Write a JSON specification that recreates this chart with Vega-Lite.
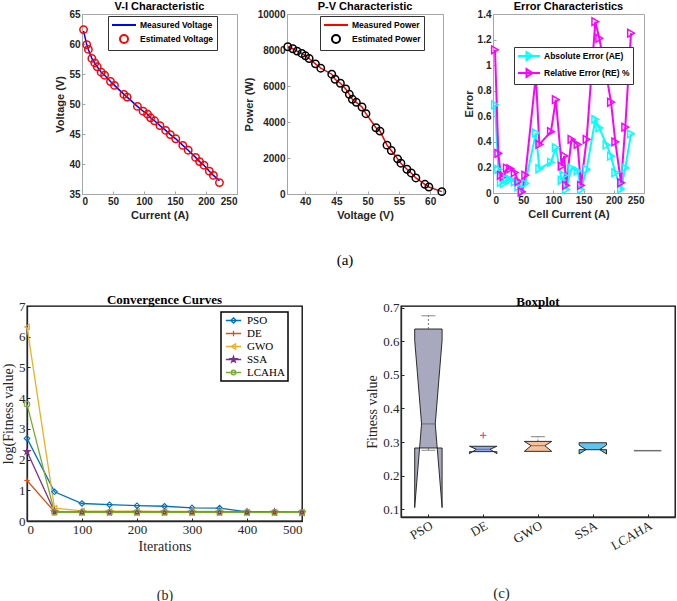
{
  "$schema": "https://vega.github.io/schema/vega-lite/v6.json",
  "padding": {"left": 0, "top": 0, "right": 0, "bottom": 0},
  "background": "white",
  "datasets": {
    "vi": [
      {"I": 2.5, "measured": 62.2, "estimated": 62.4},
      {"I": 7.6, "measured": 59.9, "estimated": 59.9},
      {"I": 10.3, "measured": 59.1, "estimated": 59.1},
      {"I": 15.9, "measured": 57.6, "estimated": 57.6},
      {"I": 20.6, "measured": 56.8, "estimated": 56.85},
      {"I": 24.6, "measured": 56.2, "estimated": 56.2},
      {"I": 30.9, "measured": 55.3, "estimated": 55.3},
      {"I": 36.4, "measured": 54.8, "estimated": 54.8},
      {"I": 46.0, "measured": 53.75, "estimated": 53.75},
      {"I": 52.4, "measured": 53.1, "estimated": 53.1},
      {"I": 67.6, "measured": 51.6, "estimated": 51.6},
      {"I": 72.8, "measured": 51.15, "estimated": 51.15},
      {"I": 89.4, "measured": 49.6, "estimated": 49.6},
      {"I": 98.6, "measured": 48.8, "estimated": 48.8},
      {"I": 105.7, "measured": 48.3, "estimated": 48.3},
      {"I": 110.6, "measured": 47.7, "estimated": 47.7},
      {"I": 117.0, "measured": 47.2, "estimated": 47.2},
      {"I": 125.7, "measured": 46.4, "estimated": 46.4},
      {"I": 135.0, "measured": 45.6, "estimated": 45.6},
      {"I": 142.5, "measured": 44.9, "estimated": 44.9},
      {"I": 151.2, "measured": 44.2, "estimated": 44.2},
      {"I": 162.6, "measured": 43.1, "estimated": 43.1},
      {"I": 171.3, "measured": 42.3, "estimated": 42.3},
      {"I": 183.2, "measured": 41.1, "estimated": 41.1},
      {"I": 189.7, "measured": 40.4, "estimated": 40.4},
      {"I": 196.7, "measured": 39.8, "estimated": 39.8},
      {"I": 205.4, "measured": 38.8, "estimated": 38.8},
      {"I": 212.0, "measured": 38.1, "estimated": 38.1},
      {"I": 221.7, "measured": 37.2, "estimated": 36.9}
    ],
    "pv": [
      {"V": 37.23, "measured": 8180, "estimated": 8180},
      {"V": 38.03, "measured": 8068, "estimated": 8068},
      {"V": 38.72, "measured": 7938, "estimated": 7938},
      {"V": 39.47, "measured": 7808, "estimated": 7808},
      {"V": 40.05, "measured": 7677, "estimated": 7677},
      {"V": 40.64, "measured": 7529, "estimated": 7529},
      {"V": 41.65, "measured": 7231, "estimated": 7231},
      {"V": 42.5, "measured": 6990, "estimated": 6990},
      {"V": 44.26, "measured": 6655, "estimated": 6655},
      {"V": 44.79, "measured": 6376, "estimated": 6376},
      {"V": 45.64, "measured": 6153, "estimated": 6153},
      {"V": 46.49, "measured": 5837, "estimated": 5837},
      {"V": 47.07, "measured": 5540, "estimated": 5540},
      {"V": 47.55, "measured": 5261, "estimated": 5261},
      {"V": 48.19, "measured": 5094, "estimated": 5094},
      {"V": 49.1, "measured": 4833, "estimated": 4833},
      {"V": 49.73, "measured": 4462, "estimated": 4462},
      {"V": 51.33, "measured": 3681, "estimated": 3681},
      {"V": 51.97, "measured": 3495, "estimated": 3495},
      {"V": 53.09, "measured": 2714, "estimated": 2714},
      {"V": 53.78, "measured": 2417, "estimated": 2417},
      {"V": 54.79, "measured": 1952, "estimated": 1952},
      {"V": 55.32, "measured": 1710, "estimated": 1710},
      {"V": 56.28, "measured": 1376, "estimated": 1376},
      {"V": 56.97, "measured": 1171, "estimated": 1171},
      {"V": 57.71, "measured": 892, "estimated": 892},
      {"V": 59.15, "measured": 539, "estimated": 539},
      {"V": 59.79, "measured": 390, "estimated": 390},
      {"V": 61.86, "measured": 130, "estimated": 130}
    ],
    "err": [
      {"I": 3.3, "ae": 0.69, "re": 1.12},
      {"I": 8.8, "ae": 0.185, "re": 0.31},
      {"I": 13.0, "ae": 0.083, "re": 0.14},
      {"I": 17.7, "ae": 0.075, "re": 0.13},
      {"I": 23.0, "ae": 0.11, "re": 0.195},
      {"I": 28.7, "ae": 0.106, "re": 0.19},
      {"I": 36.0, "ae": 0.088, "re": 0.16},
      {"I": 42.0, "ae": 0.049, "re": 0.09},
      {"I": 47.5, "ae": 0.005, "re": 0.01},
      {"I": 53.5, "ae": 0.074, "re": 0.14},
      {"I": 71.0, "ae": 0.47, "re": 0.92},
      {"I": 76.7, "ae": 0.19, "re": 0.38},
      {"I": 96.0, "ae": 0.24, "re": 0.48},
      {"I": 104.0, "ae": 0.355, "re": 0.73},
      {"I": 113.7, "ae": 0.1, "re": 0.21},
      {"I": 118.0, "ae": 0.138, "re": 0.29},
      {"I": 121.0, "ae": 0.028, "re": 0.06},
      {"I": 130.0, "ae": 0.195, "re": 0.42},
      {"I": 140.0, "ae": 0.173, "re": 0.38},
      {"I": 145.7, "ae": 0.027, "re": 0.06},
      {"I": 155.0, "ae": 0.185, "re": 0.42},
      {"I": 169.4, "ae": 0.576, "re": 1.34},
      {"I": 176.0, "ae": 0.51, "re": 1.21},
      {"I": 188.0, "ae": 0.376, "re": 0.915},
      {"I": 195.4, "ae": 0.288, "re": 0.71},
      {"I": 202.5, "ae": 0.159, "re": 0.4},
      {"I": 212.0, "ae": 0.031, "re": 0.08},
      {"I": 219.0, "ae": 0.196, "re": 0.515},
      {"I": 228.5, "ae": 0.4625, "re": 1.25}
    ],
    "conv": [
      {"it": 0, "PSO": 2.69, "DE": 1.32, "GWO": 6.32, "SSA": 2.26, "LCAHA": 3.8},
      {"it": 50, "PSO": 0.95, "DE": 0.3, "GWO": 0.42, "SSA": 0.3, "LCAHA": 0.28},
      {"it": 100, "PSO": 0.57, "DE": 0.29, "GWO": 0.33, "SSA": 0.285, "LCAHA": 0.28},
      {"it": 150, "PSO": 0.53, "DE": 0.29, "GWO": 0.32, "SSA": 0.285, "LCAHA": 0.28},
      {"it": 200, "PSO": 0.5, "DE": 0.29, "GWO": 0.32, "SSA": 0.285, "LCAHA": 0.28},
      {"it": 250, "PSO": 0.48, "DE": 0.29, "GWO": 0.31, "SSA": 0.285, "LCAHA": 0.28},
      {"it": 300, "PSO": 0.43, "DE": 0.29, "GWO": 0.31, "SSA": 0.285, "LCAHA": 0.28},
      {"it": 350, "PSO": 0.42, "DE": 0.29, "GWO": 0.31, "SSA": 0.285, "LCAHA": 0.28},
      {"it": 400, "PSO": 0.3, "DE": 0.29, "GWO": 0.29, "SSA": 0.285, "LCAHA": 0.28},
      {"it": 450, "PSO": 0.29, "DE": 0.285, "GWO": 0.285, "SSA": 0.285, "LCAHA": 0.28},
      {"it": 500, "PSO": 0.285, "DE": 0.28, "GWO": 0.285, "SSA": 0.28, "LCAHA": 0.28}
    ],
    "boxpoly": [
      {"b": "PSO", "k": 0, "x": 0.75, "y": 0.2824}, {"b": "PSO", "k": 1, "x": 0.75, "y": 0.105},
      {"b": "PSO", "k": 2, "x": 0.875, "y": 0.354}, {"b": "PSO", "k": 3, "x": 0.75, "y": 0.603},
      {"b": "PSO", "k": 4, "x": 0.75, "y": 0.6365}, {"b": "PSO", "k": 5, "x": 1.25, "y": 0.6365},
      {"b": "PSO", "k": 6, "x": 1.25, "y": 0.603}, {"b": "PSO", "k": 7, "x": 1.125, "y": 0.354},
      {"b": "PSO", "k": 8, "x": 1.25, "y": 0.105}, {"b": "PSO", "k": 9, "x": 1.25, "y": 0.2824},
      {"b": "PSO", "k": 10, "x": 0.75, "y": 0.2824},
      {"b": "DE", "k": 0, "x": 1.75, "y": 0.2715}, {"b": "DE", "k": 1, "x": 1.75, "y": 0.2655},
      {"b": "DE", "k": 2, "x": 1.875, "y": 0.2785}, {"b": "DE", "k": 3, "x": 1.75, "y": 0.2875},
      {"b": "DE", "k": 4, "x": 1.75, "y": 0.2875}, {"b": "DE", "k": 5, "x": 2.25, "y": 0.2875},
      {"b": "DE", "k": 6, "x": 2.25, "y": 0.2875}, {"b": "DE", "k": 7, "x": 2.125, "y": 0.2785},
      {"b": "DE", "k": 8, "x": 2.25, "y": 0.2655}, {"b": "DE", "k": 9, "x": 2.25, "y": 0.2715},
      {"b": "DE", "k": 10, "x": 1.75, "y": 0.2715},
      {"b": "GWO", "k": 0, "x": 2.75, "y": 0.2724}, {"b": "GWO", "k": 1, "x": 2.75, "y": 0.2724},
      {"b": "GWO", "k": 2, "x": 2.875, "y": 0.2893}, {"b": "GWO", "k": 3, "x": 2.75, "y": 0.302},
      {"b": "GWO", "k": 4, "x": 2.75, "y": 0.302}, {"b": "GWO", "k": 5, "x": 3.25, "y": 0.302},
      {"b": "GWO", "k": 6, "x": 3.25, "y": 0.302}, {"b": "GWO", "k": 7, "x": 3.125, "y": 0.2893},
      {"b": "GWO", "k": 8, "x": 3.25, "y": 0.2724}, {"b": "GWO", "k": 9, "x": 3.25, "y": 0.2724},
      {"b": "GWO", "k": 10, "x": 2.75, "y": 0.2724},
      {"b": "SSA", "k": 0, "x": 3.75, "y": 0.2775}, {"b": "SSA", "k": 1, "x": 3.75, "y": 0.2645},
      {"b": "SSA", "k": 2, "x": 3.875, "y": 0.2775}, {"b": "SSA", "k": 3, "x": 3.75, "y": 0.291},
      {"b": "SSA", "k": 4, "x": 3.75, "y": 0.298}, {"b": "SSA", "k": 5, "x": 4.25, "y": 0.298},
      {"b": "SSA", "k": 6, "x": 4.25, "y": 0.291}, {"b": "SSA", "k": 7, "x": 4.125, "y": 0.2775},
      {"b": "SSA", "k": 8, "x": 4.25, "y": 0.2645}, {"b": "SSA", "k": 9, "x": 4.25, "y": 0.2775},
      {"b": "SSA", "k": 10, "x": 3.75, "y": 0.2775}
    ],
    "boxseg": [
      {"kind": "dash", "x": 1, "x2": 1, "y": 0.6365, "y2": 0.676},
      {"kind": "solid", "x": 0.875, "x2": 1.125, "y": 0.676, "y2": 0.676},
      {"kind": "dash", "x": 1, "x2": 1, "y": 0.2824, "y2": 0.2755},
      {"kind": "solid", "x": 0.875, "x2": 1.125, "y": 0.2755, "y2": 0.2755},
      {"kind": "solid", "x": 0.875, "x2": 1.125, "y": 0.354, "y2": 0.354},
      {"kind": "solid", "x": 1.875, "x2": 2.125, "y": 0.2785, "y2": 0.2785},
      {"kind": "dash", "x": 3, "x2": 3, "y": 0.302, "y2": 0.316},
      {"kind": "solid", "x": 2.875, "x2": 3.125, "y": 0.316, "y2": 0.316},
      {"kind": "solid", "x": 2.875, "x2": 3.125, "y": 0.2893, "y2": 0.2893},
      {"kind": "solid", "x": 3.875, "x2": 4.125, "y": 0.2775, "y2": 0.2775}
    ],
    "lcaha": [{"x": 4.75, "x2": 5.25, "y": 0.2744}],
    "outlier": [{"x": 2, "y": 0.32}]
  },
  "vconcat": [
    {
      "hconcat": [
        {
          "width": 5, "height": 180,
          "view": {"stroke": null},
          "data": {"values": []},
          "mark": {"type": "point", "opacity": 0}
        },
        {
          "width": 155, "height": 180,
          "view": {"stroke": "#a6a6a6"},
          "title": {"text": "V-I Characteristic"},
          "data": {"name": "vi"},
          "transform": [{"fold": ["measured", "estimated"], "as": ["s", "V"]}],
          "encoding": {
            "x": {"field": "I", "type": "quantitative", "scale": {"domain": [0, 250]}, "axis": {"title": "Current (A)", "values": [0, 50, 100, 150, 200, 250]}},
            "y": {"field": "V", "type": "quantitative", "scale": {"domain": [35, 65]}, "axis": {"title": "Voltage (V)", "values": [35, 40, 45, 50, 55, 60, 65]}},
            "color": {"field": "s", "type": "nominal", "scale": {"domain": ["measured", "estimated"], "range": ["#0000ff", "#ff0000"]},
              "legend": {"title": null, "orient": "none", "legendX": 26, "legendY": 2,
                "labelExpr": "datum.value == 'measured' ? 'Measured Voltage' : 'Estimated Voltage'",
                "symbolSize": 100, "symbolOffset": 7, "labelOffset": 10,
                "encode": {"symbols": {"update": {"shape": {"signal": "datum.value == 'measured' ? 'M-2.4,0H2.4' : 'M-0.8,0A0.8,0.8,0,1,1,0.8,0A0.8,0.8,0,1,1,-0.8,0Z'"}, "fill": {"value": "transparent"}, "strokeWidth": {"value": 2}}}}}}
          },
          "layer": [
            {"transform": [{"filter": "datum.s == 'measured'"}], "mark": {"type": "line", "strokeWidth": 1.5}},
            {"transform": [{"filter": "datum.s == 'estimated'"}], "mark": {"type": "point", "filled": false, "size": 55, "strokeWidth": 1.5, "opacity": 1}}
          ]
        },
        {
          "width": 156, "height": 180,
          "view": {"stroke": "#a6a6a6"},
          "title": {"text": "P-V Characteristic"},
          "data": {"name": "pv"},
          "transform": [{"fold": ["measured", "estimated"], "as": ["s", "P"]}],
          "encoding": {
            "x": {"field": "V", "type": "quantitative", "scale": {"domain": [37.1, 62.05], "nice": false}, "axis": {"title": "Voltage (V)", "values": [40, 45, 50, 55, 60]}},
            "y": {"field": "P", "type": "quantitative", "scale": {"domain": [0, 10000]}, "axis": {"title": "Power (W)", "values": [0, 2000, 4000, 6000, 8000, 10000], "format": "d"}},
            "color": {"field": "s", "type": "nominal", "scale": {"domain": ["measured", "estimated"], "range": ["#ff0000", "#000000"]},
              "legend": {"title": null, "orient": "none", "legendX": 33, "legendY": 2,
                "labelExpr": "datum.value == 'measured' ? 'Measured Power' : 'Estimated Power'",
                "symbolSize": 100, "symbolOffset": 7, "labelOffset": 10,
                "encode": {"symbols": {"update": {"shape": {"signal": "datum.value == 'measured' ? 'M-2.4,0H2.4' : 'M-0.8,0A0.8,0.8,0,1,1,0.8,0A0.8,0.8,0,1,1,-0.8,0Z'"}, "fill": {"value": "transparent"}, "strokeWidth": {"value": 2}}}}}}
          },
          "layer": [
            {"transform": [{"filter": "datum.s == 'measured'"}], "mark": {"type": "line", "strokeWidth": 1.5}},
            {"transform": [{"filter": "datum.s == 'estimated'"}], "mark": {"type": "point", "filled": false, "size": 55, "strokeWidth": 1.5, "opacity": 1}}
          ]
        },
        {
          "width": 151, "height": 179,
          "view": {"stroke": "#a6a6a6"},
          "title": {"text": "Error Characteristics"},
          "data": {"name": "err"},
          "transform": [{"fold": ["ae", "re"], "as": ["s", "E"]}],
          "encoding": {
            "x": {"field": "I", "type": "quantitative", "scale": {"domain": [0, 250]}, "axis": {"title": "Cell Current (A)", "values": [0, 50, 100, 150, 200, 250]}},
            "y": {"field": "E", "type": "quantitative", "scale": {"domain": [0, 1.4]}, "axis": {"title": "Error", "values": [0, 0.2, 0.4, 0.6, 0.8, 1, 1.2, 1.4], "format": "~g"}},
            "color": {"field": "s", "type": "nominal", "scale": {"domain": ["ae", "re"], "range": ["#00ffff", "#ff00ff"]},
              "legend": {"title": null, "orient": "none", "legendX": 21, "legendY": 33,
                "labelExpr": "datum.value == 'ae' ? 'Absolute Error (AE)' : 'Relative Error (RE) %'",
                "symbolSize": 100, "symbolOffset": 6, "labelOffset": 9,
                "encode": {"symbols": {"update": {"shape": {"value": "M-2.2,0H2.2M-0.5,-0.8L0.7,0L-0.5,0.8Z"}, "fill": {"value": "transparent"}, "strokeWidth": {"value": 2}}}}}}
          },
          "layer": [
            {"mark": {"type": "line", "strokeWidth": 2}},
            {"mark": {"type": "point", "filled": false, "shape": "triangle-right", "size": 60, "strokeWidth": 1.5, "opacity": 1}}
          ]
        }
      ],
      "spacing": 50,
      "bounds": "flush",
      "title": {"text": "(a)", "orient": "bottom", "font": "Liberation Serif", "fontSize": 15, "fontWeight": "normal", "anchor": "middle", "offset": 32, "dx": 9},
      "resolve": {"scale": {"color": "independent"}, "legend": {"color": "independent"}}
    },
    {
      "hconcat": [
        {
          "width": 275, "height": 215,
          "view": {"stroke": "#000000", "strokeWidth": 1.3},
          "title": {"text": "Convergence Curves", "font": "Liberation Serif", "fontSize": 13, "fontWeight": "bold", "offset": -7},
          "data": {"name": "conv"},
          "transform": [{"fold": ["PSO", "DE", "GWO", "SSA", "LCAHA"], "as": ["alg", "f"]}],
          "encoding": {
            "x": {"field": "it", "type": "quantitative", "scale": {"domain": [0, 500]},
              "axis": {"title": ["Iterations", "(b)"], "titleLineHeight": 49, "values": [0, 100, 200, 300, 400, 500],
                "labelFont": "Liberation Serif", "labelFontWeight": "normal", "labelFontSize": 13, "labelColor": "#262626",
                "titleFont": "Liberation Serif", "titleFontWeight": "normal", "titleFontSize": 14, "domainColor": "#262626", "tickColor": "#262626", "domainWidth": 1.3}},
            "y": {"field": "f", "type": "quantitative", "scale": {"domain": [0, 7]},
              "axis": {"title": "log(Fitness value)", "values": [0, 1, 2, 3, 4, 5, 6, 7], "labelPadding": 5, "titlePadding": 3,
                "labelFont": "Liberation Serif", "labelFontWeight": "normal", "labelFontSize": 13, "labelColor": "#262626",
                "titleFont": "Liberation Serif", "titleFontWeight": "normal", "titleFontSize": 14, "domainColor": "#262626", "tickColor": "#262626", "domainWidth": 1.3}},
            "color": {"field": "alg", "type": "nominal", "scale": {"domain": ["PSO", "DE", "GWO", "SSA", "LCAHA"], "range": ["#0072bd", "#d95319", "#edb120", "#7e2f8e", "#77ac30"]},
              "legend": {"title": null, "orient": "none", "legendX": 194, "legendY": 6,
                "labelFont": "Liberation Serif", "labelFontWeight": "normal", "labelFontSize": 11, "strokeColor": "#000000",
                "symbolSize": 81, "symbolOffset": 4, "labelOffset": 8, "rowPadding": 1,
                "encode": {"legend": {"update": {"strokeWidth": {"value": 1.5}}}, "symbols": {"update": {"shape": {"signal": "datum.value=='PSO'?'M-1.7,0H1.7M0,-0.6L0.6,0L0,0.6L-0.6,0Z':datum.value=='DE'?'M-1.7,0H1.7M0,-0.6V0.6':datum.value=='GWO'?'M-1.7,0H1.7M-0.55,0L0.45,-0.6L0.45,0.6Z':datum.value=='SSA'?'M-1.7,0H1.7M0,-0.7L0.16,-0.21L0.67,-0.21L0.26,0.08L0.41,0.57L0,0.27L-0.41,0.57L-0.26,0.08L-0.67,-0.21L-0.16,-0.21Z':'M-1.7,0H1.7M-0.5,0A0.5,0.5,0,1,1,0.5,0A0.5,0.5,0,1,1,-0.5,0Z'"}, "fill": {"value": "transparent"}, "strokeWidth": {"value": 1.3}}}}}}
          },
          "layer": [
            {"mark": {"type": "line", "strokeWidth": 1.3}},
            {"transform": [{"filter": "datum.alg == 'PSO'"}], "mark": {"type": "point", "shape": "diamond", "filled": false, "size": 30, "strokeWidth": 1.1, "opacity": 1}},
            {"transform": [{"filter": "datum.alg == 'DE'"}], "mark": {"type": "point", "shape": "M-1,0L1,0M0,-1L0,1", "filled": false, "size": 30, "strokeWidth": 1.1, "opacity": 1}},
            {"transform": [{"filter": "datum.alg == 'GWO'"}], "mark": {"type": "point", "shape": "triangle-left", "filled": false, "size": 30, "strokeWidth": 1.1, "opacity": 1}},
            {"transform": [{"filter": "datum.alg == 'SSA'"}], "mark": {"type": "point", "shape": "M0,-1L0.223,-0.307L0.951,-0.309L0.361,0.117L0.588,0.809L0,0.38L-0.588,0.809L-0.361,0.117L-0.951,-0.309L-0.223,-0.307Z", "filled": false, "size": 40, "strokeWidth": 1.1, "opacity": 1}},
            {"transform": [{"filter": "datum.alg == 'LCAHA'"}], "mark": {"type": "point", "shape": "circle", "filled": false, "size": 30, "strokeWidth": 1.1, "opacity": 1}}
          ]
        },
        {
          "width": 274, "height": 211,
          "view": {"stroke": "#000000", "strokeWidth": 1.3},
          "title": {"text": "Boxplot", "font": "Liberation Serif", "fontSize": 13, "fontWeight": "bold", "offset": -7},
          "encoding": {
            "x": {"field": "x", "type": "quantitative", "scale": {"domain": [0.5, 5.5], "nice": false},
              "axis": {"title": "(c)", "titlePadding": 33, "titleX": 100, "values": [1, 2, 3, 4, 5],
                "labelExpr": "['PSO','DE','GWO','SSA','LCAHA'][datum.value - 1]", "labelAngle": -30, "labelAlign": "right", "labelBaseline": "top",
                "labelFont": "Liberation Serif", "labelFontWeight": "normal", "labelFontSize": 13, "labelColor": "#262626",
                "titleFont": "Liberation Serif", "titleFontWeight": "normal", "titleFontSize": 15, "domainColor": "#262626", "tickColor": "#262626", "domainWidth": 1.3}},
            "y": {"field": "y", "type": "quantitative", "scale": {"domain": [0.077, 0.705], "nice": false},
              "axis": {"title": "Fitness value", "values": [0.1, 0.2, 0.3, 0.4, 0.5, 0.6, 0.7], "format": ".1f",
                "labelFont": "Liberation Serif", "labelFontWeight": "normal", "labelFontSize": 13, "labelColor": "#262626",
                "titleFont": "Liberation Serif", "titleFontWeight": "normal", "titleFontSize": 14, "domainColor": "#262626", "tickColor": "#262626", "domainWidth": 1.3}}
          },
          "layer": [
            {"data": {"name": "boxpoly"}, "transform": [{"filter": "datum.b == 'PSO'"}], "mark": {"type": "line", "fill": "#a8a8be", "stroke": "#1a1a1a", "strokeWidth": 0.9}, "encoding": {"order": {"field": "k", "type": "quantitative"}}},
            {"data": {"name": "boxpoly"}, "transform": [{"filter": "datum.b == 'DE'"}], "mark": {"type": "line", "fill": "#93a9e8", "stroke": "#1a1a1a", "strokeWidth": 0.9}, "encoding": {"order": {"field": "k", "type": "quantitative"}}},
            {"data": {"name": "boxpoly"}, "transform": [{"filter": "datum.b == 'GWO'"}], "mark": {"type": "line", "fill": "#f6c09c", "stroke": "#1a1a1a", "strokeWidth": 0.9}, "encoding": {"order": {"field": "k", "type": "quantitative"}}},
            {"data": {"name": "boxpoly"}, "transform": [{"filter": "datum.b == 'SSA'"}], "mark": {"type": "line", "fill": "#5ec6ee", "stroke": "#1a1a1a", "strokeWidth": 0.9}, "encoding": {"order": {"field": "k", "type": "quantitative"}}},
            {"data": {"name": "boxseg"}, "mark": {"type": "rule", "color": "#555555", "strokeWidth": 0.8},
              "encoding": {"x2": {"field": "x2"}, "y2": {"field": "y2"},
                "strokeDash": {"field": "kind", "type": "nominal", "legend": null, "scale": {"domain": ["dash", "solid"], "range": [[2, 2], [1, 0]]}}}},
            {"data": {"name": "lcaha"}, "mark": {"type": "rule", "color": "#707070", "strokeWidth": 1.5}, "encoding": {"x2": {"field": "x2"}}},
            {"data": {"name": "outlier"}, "mark": {"type": "point", "shape": "M-1,0L1,0M0,-1L0,1", "color": "#ff3030", "size": 40, "strokeWidth": 1, "filled": false, "opacity": 1}}
          ]
        }
      ],
      "spacing": 99,
      "bounds": "flush",
      "resolve": {"scale": {"color": "independent"}, "legend": {"color": "independent"}}
    }
  ],
  "spacing": 25,
  "bounds": "full",
  "resolve": {"scale": {"color": "independent"}, "legend": {"color": "independent"}},
  "config": {
    "axis": {"grid": false, "labelFont": "Liberation Sans", "labelFontWeight": "bold", "labelFontSize": 10, "labelColor": "#262626",
      "titleFont": "Liberation Sans", "titleFontWeight": "bold", "titleFontSize": 11, "titleColor": "#262626",
      "domainColor": "#a6a6a6", "tickColor": "#a6a6a6", "tickSize": -3, "labelPadding": 5, "titlePadding": 3},
    "title": {"font": "Liberation Sans", "fontWeight": "bold", "fontSize": 11, "offset": -3, "color": "#000000"},
    "legend": {"labelFont": "Liberation Sans", "labelFontWeight": "bold", "labelFontSize": 8.5, "labelColor": "#000000",
      "strokeColor": "#333333", "fillColor": "white", "padding": 3, "rowPadding": 1}
  }
}
